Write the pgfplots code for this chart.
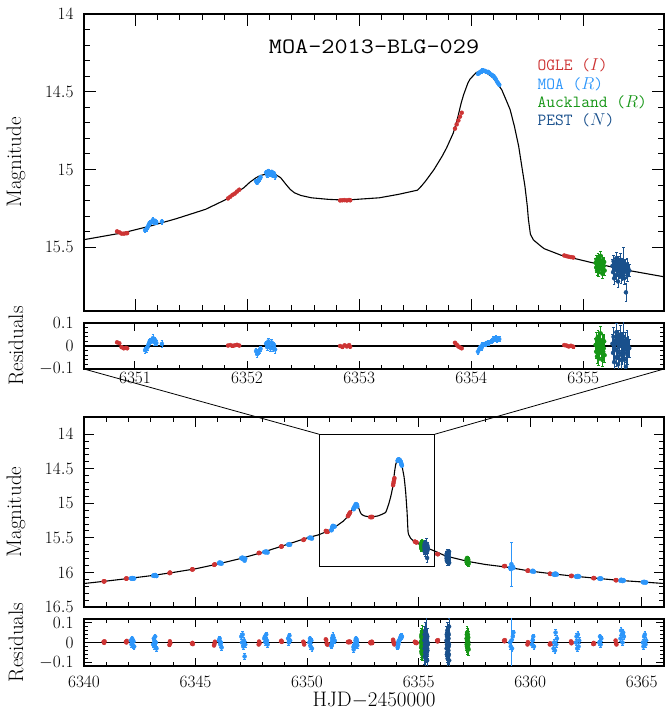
\documentclass[border=0pt]{standalone}
\usepackage{pgfplots}
\pgfplotsset{compat=1.18}
\usepackage{pgfplotstable}

\definecolor{ogle}{RGB}{205,52,52}
\definecolor{moa}{RGB}{45,150,250}
\definecolor{auck}{RGB}{22,150,22}
\definecolor{pest}{RGB}{25,80,140}

\pgfplotstableread{
t m
6340.0 16.16
6341.0 16.125
6342.0 16.087
6343.0 16.047
6344.0 16.0
6345.0 15.947
6346.0 15.878
6347.0 15.80
6348.0 15.71
6349.0 15.605
6349.5 15.553
6350.0 15.50
6350.5 15.457
6350.9 15.406
6351.14 15.363
6351.37 15.316
6351.63 15.256
6351.82 15.19
6351.894 15.154
6351.97 15.118
6352.026 15.081
6352.08 15.053
6352.12 15.038
6352.196 15.026
6352.253 15.032
6352.30 15.053
6352.347 15.096
6352.385 15.128
6352.423 15.15
6352.48 15.167
6352.574 15.182
6352.725 15.192
6352.875 15.197
6353.18 15.182
6353.35 15.16
6353.52 15.133
6353.555 15.107
6353.592 15.075
6353.668 15.0
6353.74 14.915
6353.78 14.861
6353.84 14.765
6353.875 14.679
6353.91 14.573
6353.932 14.519
6353.97 14.444
6353.989 14.419
6354.045 14.376
6354.083 14.368
6354.12 14.372
6354.16 14.391
6354.196 14.412
6354.23 14.445
6354.272 14.487
6354.31 14.551
6354.347 14.615
6354.385 14.722
6354.423 14.85
6354.46 15.021
6354.479 15.107
6354.50 15.235
6354.51 15.32
6354.528 15.417
6354.555 15.453
6354.611 15.487
6354.65 15.509
6354.8 15.551
6355.07 15.598
6355.37 15.645
6355.72 15.69
6356.2 15.76
6357.2 15.84
6358.0 15.885
6359.0 15.925
6360.0 15.98
6361.0 16.02
6362.0 16.055
6363.0 16.085
6364.0 16.115
6365.0 16.137
6366.0 16.16
}\model

\pgfplotstableread{
t m e r
6340.88 16.128 0.006 0.004
6340.90 16.132 0.006 -0.002
6340.92 16.127 0.006 0.006
6341.88 16.088 0.006 0.004
6341.90 16.091 0.006 0.0
6341.92 16.086 0.006 0.008
6343.83 16.010 0.006 -0.012
6343.85 16.000 0.006 0.006
6343.87 16.006 0.006 -0.003
6344.84 15.957 0.006 -0.006
6344.86 15.954 0.006 -0.002
6344.88 15.956 0.006 -0.008
6345.83 15.890 0.006 -0.015
6345.85 15.886 0.006 -0.006
6345.87 15.882 0.006 0.004
6347.83 15.720 0.006 -0.010
6347.85 15.716 0.006 0.005
6347.87 15.718 0.006 -0.004
6348.83 15.626 0.006 0.006
6348.85 15.622 0.006 0.009
6348.87 15.624 0.006 0.003
6349.83 15.530 0.006 0.004
6349.85 15.526 0.006 0.0
6349.87 15.522 0.006 -0.010
6350.84 15.398 0.005 0.016
6350.86 15.404 0.005 0.012
6350.88 15.412 0.005 -0.005
6350.90 15.413 0.005 -0.010
6350.92 15.410 0.005 -0.008
6350.93 15.409 0.005 -0.010
6351.83 15.186 0.005 0.002
6351.85 15.175 0.005 0.004
6351.87 15.163 0.005 0.001
6351.89 15.155 0.005 0.003
6351.91 15.142 0.005 0.005
6351.93 15.130 0.005 0.002
6352.83 15.199 0.005 0.0
6352.85 15.198 0.005 -0.004
6352.87 15.197 0.005 0.003
6352.89 15.199 0.005 -0.002
6352.91 15.196 0.005 0.004
6352.92 15.198 0.005 -0.003
6353.855 14.737 0.005 0.014
6353.87 14.710 0.005 0.006
6353.885 14.685 0.005 -0.002
6353.90 14.660 0.005 -0.006
6353.915 14.635 0.005 -0.010
6354.83 15.553 0.005 0.004
6354.85 15.557 0.005 0.002
6354.87 15.561 0.005 -0.002
6354.89 15.563 0.005 0.001
6354.91 15.566 0.005 -0.003
6355.83 15.732 0.006 0.010
6355.85 15.735 0.006 0.005
6355.87 15.737 0.006 0.012
6358.83 15.908 0.006 0.010
6358.85 15.910 0.006 0.006
6358.87 15.906 0.006 0.012
6359.88 15.975 0.006 -0.010
6359.90 15.972 0.006 0.002
6359.92 15.974 0.006 -0.004
6360.88 16.018 0.006 -0.010
6360.90 16.021 0.006 -0.004
6360.92 16.020 0.006 -0.008
6361.83 16.050 0.006 0.006
6361.85 16.052 0.006 -0.004
6361.87 16.049 0.006 0.0
6362.83 16.082 0.006 -0.008
6362.85 16.080 0.006 -0.002
6362.87 16.083 0.006 -0.006
6363.83 16.112 0.006 0.010
6363.85 16.110 0.006 -0.004
6363.87 16.113 0.006 -0.010
}\ogledata

\pgfplotstableread{
t m e r
6342.10 16.085 0.012 0.010
6342.13 16.090 0.012 -0.010
6342.16 16.080 0.012 0.020
6342.19 16.092 0.012 -0.015
6342.22 16.084 0.012 0.005
6342.25 16.088 0.012 -0.020
6343.10 16.048 0.012 -0.010
6343.13 16.040 0.012 0.020
6343.15 16.042 0.012 0.010
6343.16 16.050 0.012 -0.020
6343.19 16.036 0.012 0.030
6343.22 16.045 0.012 0.0
6343.25 16.052 0.012 -0.030
6346.05 15.865 0.012 0.010
6346.08 15.855 0.012 0.020
6346.11 15.870 0.012 -0.010
6346.14 15.860 0.012 0.0
6346.17 15.872 0.012 -0.025
6347.05 15.790 0.015 0.030
6347.08 15.800 0.015 0.0
6347.11 15.785 0.015 0.040
6347.14 15.810 0.015 -0.020
6347.17 15.795 0.015 0.010
6347.20 15.830 0.015 -0.070
6347.23 15.800 0.015 -0.010
6348.08 15.705 0.012 0.020
6348.11 15.700 0.012 0.030
6348.14 15.710 0.012 0.0
6348.17 15.695 0.012 0.040
6348.20 15.705 0.012 0.010
6348.23 15.712 0.012 -0.010
6349.15 15.595 0.012 0.020
6349.18 15.600 0.012 0.0
6349.21 15.590 0.012 0.035
6349.24 15.598 0.012 0.010
6350.10 15.500 0.012 0.0
6350.13 15.495 0.012 0.020
6350.16 15.505 0.012 -0.020
6350.19 15.498 0.012 0.010
6350.22 15.510 0.012 -0.030
6351.09 15.390 0.012 -0.018
6351.10 15.385 0.012 -0.015
6351.11 15.375 0.012 -0.007
6351.12 15.360 0.012 0.006
6351.13 15.345 0.012 0.019
6351.14 15.340 0.012 0.023
6351.15 15.335 0.012 0.026
6351.16 15.325 0.015 0.034
6351.17 15.340 0.012 0.017
6351.18 15.330 0.012 0.025
6351.19 15.340 0.012 0.013
6351.24 15.335 0.015 0.009
6352.08 15.075 0.012 -0.022
6352.09 15.085 0.012 -0.035
6352.10 15.070 0.012 -0.025
6352.11 15.062 0.012 -0.020
6352.12 15.050 0.012 -0.012
6352.17 15.020 0.012 0.010
6352.18 15.035 0.012 -0.005
6352.19 15.010 0.012 0.020
6352.20 15.025 0.012 0.0
6352.21 15.030 0.012 -0.010
6352.22 15.015 0.012 0.015
6352.23 15.040 0.012 -0.010
6352.24 15.025 0.012 0.005
6352.25 15.045 0.015 -0.015
6354.06 14.385 0.010 -0.025
6354.07 14.380 0.010 -0.015
6354.08 14.372 0.010 -0.005
6354.09 14.370 0.010 -0.010
6354.10 14.362 0.010 0.005
6354.12 14.365 0.010 0.008
6354.13 14.370 0.010 0.010
6354.15 14.372 0.010 0.015
6354.16 14.378 0.010 0.015
6354.18 14.390 0.010 0.020
6354.19 14.395 0.010 0.025
6354.20 14.400 0.010 0.030
6354.21 14.410 0.010 0.030
6354.22 14.420 0.010 0.035
6354.23 14.435 0.010 0.025
6354.24 14.445 0.010 0.030
6354.25 14.455 0.010 0.030
6359.10 15.930 0.012 0.0
6359.13 15.950 0.015 -0.020
6359.16 15.880 0.320 0.010
6359.19 15.940 0.012 -0.030
6359.22 15.915 0.012 0.030
6359.25 15.935 0.012 0.050
6360.08 15.985 0.012 -0.010
6360.11 15.975 0.012 0.010
6360.14 15.980 0.012 0.030
6360.17 15.990 0.012 -0.020
6361.05 16.030 0.015 -0.030
6361.08 16.020 0.015 0.0
6361.11 16.035 0.015 -0.040
6361.14 16.015 0.015 0.050
6361.17 16.025 0.015 -0.010
6361.20 16.030 0.015 0.020
6362.05 16.060 0.015 0.0
6362.08 16.055 0.015 0.030
6362.11 16.065 0.015 -0.030
6362.14 16.050 0.015 0.040
6362.17 16.060 0.015 -0.020
6362.20 16.058 0.015 0.010
6363.10 16.090 0.012 0.0
6363.13 16.085 0.012 0.030
6363.16 16.095 0.012 -0.010
6363.19 16.088 0.012 0.020
6364.05 16.120 0.015 0.020
6364.08 16.105 0.015 0.060
6364.11 16.115 0.015 0.040
6364.14 16.125 0.015 0.0
6364.17 16.110 0.015 0.050
6364.20 16.118 0.015 0.030
6365.05 16.140 0.015 0.0
6365.08 16.145 0.015 -0.020
6365.11 16.135 0.015 0.030
6365.14 16.140 0.015 0.040
6365.17 16.148 0.015 -0.010
6365.20 16.142 0.015 0.010
}\moadata

\pgfplotstableread{
t m e r
6355.110 15.600 0.030 0.005
6355.115 15.630 0.030 -0.025
6355.118 15.580 0.030 0.030
6355.122 15.650 0.030 -0.045
6355.126 15.610 0.030 -0.005
6355.130 15.570 0.030 0.040
6355.134 15.620 0.030 -0.015
6355.138 15.660 0.030 -0.055
6355.142 15.590 0.030 0.020
6355.146 15.640 0.030 -0.030
6355.150 15.600 0.030 0.010
6355.154 15.555 0.030 0.055
6355.158 15.630 0.030 -0.020
6355.162 15.610 0.030 0.0
6355.166 15.585 0.030 0.025
6355.170 15.670 0.030 -0.060
6355.174 15.600 0.030 0.015
6355.178 15.640 0.030 -0.025
6355.182 15.620 0.030 -0.010
6355.186 15.595 0.030 0.020
6355.190 15.650 0.030 -0.040
6357.150 15.820 0.030 0.020
6357.155 15.850 0.030 -0.010
6357.160 15.800 0.030 0.040
6357.165 15.860 0.030 -0.020
6357.170 15.830 0.030 0.010
6357.175 15.790 0.030 0.050
6357.180 15.840 0.030 0.0
6357.185 15.870 0.030 -0.030
6357.190 15.810 0.030 0.030
6357.195 15.855 0.030 -0.015
6357.200 15.825 0.030 0.015
6357.205 15.845 0.030 -0.005
6357.210 15.800 0.030 0.040
6357.215 15.865 0.030 -0.025
6357.220 15.835 0.030 0.005
6357.225 15.815 0.030 0.025
6357.230 15.850 0.030 -0.010
6357.240 15.875 0.030 -0.035
}\auckdata

\pgfplotstableread{
t m e r
6355.260 15.620 0.040 0.010
6355.265 15.660 0.040 -0.030
6355.270 15.590 0.040 0.040
6355.275 15.700 0.040 -0.070
6355.280 15.640 0.040 -0.010
6355.285 15.610 0.040 0.020
6355.290 15.680 0.040 -0.050
6355.295 15.570 0.040 0.060
6355.300 15.650 0.040 -0.020
6355.305 15.620 0.040 0.010
6355.310 15.720 0.040 -0.080
6355.315 15.600 0.040 0.030
6355.320 15.660 0.040 -0.030
6355.325 15.635 0.040 0.0
6355.330 15.580 0.040 0.050
6355.335 15.690 0.040 -0.060
6355.340 15.630 0.040 0.0
6355.345 15.670 0.040 -0.040
6355.350 15.610 0.040 0.020
6355.355 15.655 0.040 -0.020
6355.360 15.590 0.090 0.040
6355.365 15.700 0.040 -0.060
6355.370 15.640 0.040 -0.010
6355.375 15.620 0.040 0.020
6355.380 15.790 0.060 -0.090
6355.385 15.660 0.040 -0.030
6355.390 15.610 0.040 0.030
6355.395 15.680 0.040 -0.040
6355.400 15.635 0.040 0.0
6355.410 15.650 0.040 -0.010
6356.250 15.760 0.040 0.010
6356.255 15.800 0.040 -0.030
6356.260 15.730 0.040 0.040
6356.265 15.830 0.040 -0.060
6356.270 15.780 0.040 -0.010
6356.275 15.740 0.040 0.030
6356.280 15.820 0.040 -0.050
6356.285 15.710 0.040 0.060
6356.290 15.790 0.040 -0.020
6356.295 15.760 0.040 0.010
6356.300 15.850 0.040 -0.080
6356.305 15.750 0.040 0.020
6356.310 15.800 0.040 -0.030
6356.315 15.770 0.040 0.0
6356.320 15.720 0.040 0.050
6356.325 15.840 0.040 -0.070
6356.330 15.770 0.040 0.0
6356.335 15.810 0.040 -0.040
6356.340 15.750 0.040 0.020
6356.345 15.790 0.040 -0.020
6356.350 15.730 0.040 0.040
6356.355 15.830 0.040 -0.060
6356.360 15.780 0.040 -0.010
6356.365 15.700 0.040 0.080
6356.370 15.860 0.040 -0.090
}\pestdata

\pgfplotsset{
  lc/.style={
    scale only axis,
    axis line style={line width=1.6pt},
    every tick/.style={black, line width=1pt},
    tick align=inside,
    xtick pos=both, ytick pos=both,
    scaled x ticks=false, scaled y ticks=false,
    /pgf/number format/set thousands separator={},
    tick label style={font=\fontsize{18}{18}\selectfont},
    label style={font=\fontsize{21}{21}\selectfont},
    ylabel style={at={(rel axis cs:0,0.5)}, anchor=center, yshift=68pt},
    yticklabel style={xshift=-7pt},
    minor x tick num=4, minor y tick num=4,
  },
  dat/.style={only marks, mark=*, mark size=2pt, color=#1,
    mark options={draw=#1, fill=#1},
    error bars/y dir=both, error bars/y explicit,
    error bars/error bar style={line width=0.6pt, #1},
    error bars/error mark options={rotate=90, mark size=1.3pt, line width=0.6pt, #1}},
}

\begin{document}
\begin{tikzpicture}
\useasboundingbox (0,0) rectangle (666pt,715pt);

% top main panel
\begin{axis}[lc, at={(84pt,404pt)}, anchor=south west,
  width=580pt, height=297pt,
  xmin=6350.545, xmax=6355.72, ymin=14, ymax=15.91, y dir=reverse,
  xtick={6351,6352,6353,6354,6355}, xticklabels={},
  ytick={14,14.5,15,15.5},
  major tick length=12pt, minor tick length=6pt,
  ylabel={Magnitude}]
\addplot[black, line width=1.1pt] table[x=t,y=m]{\model};
\addplot[dat=ogle, restrict x to domain=6350.4:6355.8] table[x=t,y=m,y error=e]{\ogledata};
\addplot[dat=moa, restrict x to domain=6350.4:6355.8] table[x=t,y=m,y error=e]{\moadata};
\addplot[dat=auck, restrict x to domain=6350.4:6355.8] table[x=t,y=m,y error=e]{\auckdata};
\addplot[dat=pest, restrict x to domain=6350.4:6355.8] table[x=t,y=m,y error=e]{\pestdata};
\node at (rel axis cs:0.5,0.889) {\fontsize{22}{22}\selectfont\ttfamily\scalebox{1.16}[1]{MOA-2013-BLG-029}};
\node[anchor=west, text=ogle] at (rel axis cs:0.776,0.828) {\fontsize{17}{17}\selectfont\ttfamily OGLE ($I$)};
\node[anchor=west, text=moa] at (rel axis cs:0.776,0.764) {\fontsize{17}{17}\selectfont\ttfamily MOA ($R$)};
\node[anchor=west, text=auck] at (rel axis cs:0.776,0.704) {\fontsize{17}{17}\selectfont\ttfamily Auckland ($R$)};
\node[anchor=west, text=pest] at (rel axis cs:0.776,0.643) {\fontsize{17}{17}\selectfont\ttfamily PEST ($N$)};
\end{axis}

% top residual panel
\begin{axis}[lc, at={(84pt,346pt)}, anchor=south west,
  width=580pt, height=46pt,
  xmin=6350.545, xmax=6355.72, ymin=-0.1, ymax=0.1,
  xtick={6351,6352,6353,6354,6355},
  ytick={-0.1,0,0.1},
  major tick length=8pt, minor tick length=4pt,
  ylabel={Residuals}]
\addplot[black, line width=1.1pt] coordinates {(6350,0) (6356,0)};
\addplot[dat=ogle, restrict x to domain=6350.4:6355.8] table[x=t,y=r,y error=e]{\ogledata};
\addplot[dat=moa, restrict x to domain=6350.4:6355.8] table[x=t,y=r,y error=e]{\moadata};
\addplot[dat=auck, restrict x to domain=6350.4:6355.8] table[x=t,y=r,y error=e]{\auckdata};
\addplot[dat=pest, restrict x to domain=6350.4:6355.8] table[x=t,y=r,y error=e]{\pestdata};
\coordinate (TL) at (rel axis cs:0,0);
\coordinate (TR) at (rel axis cs:1,0);
\end{axis}

% bottom main panel
\begin{axis}[lc, at={(84pt,108pt)}, anchor=south west,
  width=580pt, height=190pt,
  xmin=6340, xmax=6366, ymin=13.75, ymax=16.5, y dir=reverse,
  xtick={6340,6345,...,6365}, xticklabels={},
  ytick={14,14.5,15,15.5,16,16.5},
  major tick length=10pt, minor tick length=5pt,
  ylabel={Magnitude}]
\addplot[black, line width=1.1pt] table[x=t,y=m]{\model};
\addplot[dat=ogle] table[x=t,y=m,y error=e]{\ogledata};
\addplot[dat=moa] table[x=t,y=m,y error=e]{\moadata};
\addplot[dat=auck] table[x=t,y=m,y error=e]{\auckdata};
\addplot[dat=pest] table[x=t,y=m,y error=e]{\pestdata};
\draw[black, line width=0.8pt] (axis cs:6350.545,14) rectangle (axis cs:6355.72,15.91);
\coordinate (BL) at (axis cs:6350.545,14);
\coordinate (BR) at (axis cs:6355.72,14);
\end{axis}

% bottom residual panel
\begin{axis}[lc, at={(84pt,49pt)}, anchor=south west,
  width=580pt, height=47pt,
  xmin=6340, xmax=6366, ymin=-0.118, ymax=0.118,
  xtick={6340,6345,...,6365},
  ytick={-0.1,0,0.1},
  xticklabel style={yshift=-7pt},
  xlabel style={inner sep=0pt, yshift=-1pt},
  major tick length=8pt, minor tick length=4pt,
  ylabel={Residuals}, xlabel={HJD$-$2450000}]
\addplot[black, line width=1.1pt] coordinates {(6340,0) (6366,0)};
\addplot[dat=ogle] table[x=t,y=r,y error=e]{\ogledata};
\addplot[dat=moa] table[x=t,y=r,y error=e]{\moadata};
\addplot[dat=auck] table[x=t,y=r,y error=e]{\auckdata};
\addplot[dat=pest] table[x=t,y=r,y error=e]{\pestdata};
\end{axis}

\draw[black, line width=0.8pt] (TL) -- (BL);
\draw[black, line width=0.8pt] (TR) -- (BR);
\end{tikzpicture}
\end{document}
